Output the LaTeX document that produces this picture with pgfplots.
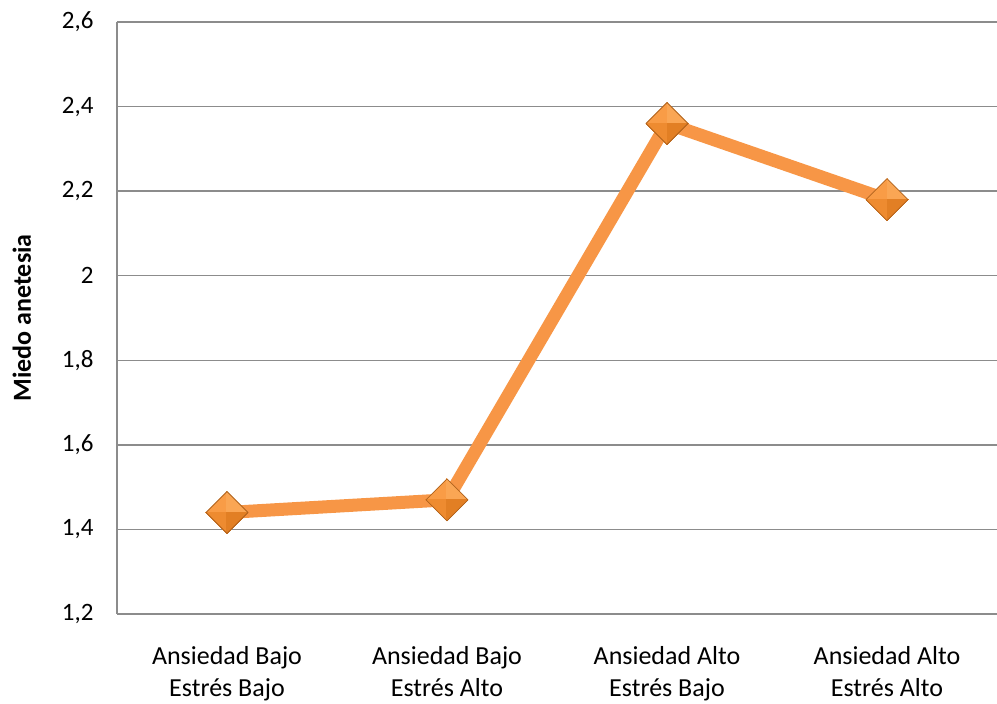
\documentclass[border=0pt]{standalone}
\usepackage{pgfplots}
\pgfplotsset{compat=1.18}
\usepackage{fontspec}
\setmainfont{Carlito}
\definecolor{lineorange}{HTML}{F79646}
\definecolor{facetl}{HTML}{F99C46}
\definecolor{facetr}{HTML}{FAA654}
\definecolor{facebl}{HTML}{EE8B30}
\definecolor{facebr}{HTML}{E27F24}
\definecolor{markedge}{HTML}{B0621C}
\definecolor{gridgray}{HTML}{8C8C8C}
% faceted diamond: four triangular faces meeting at the centre
\pgfdeclareplotmark{pyramid}{%
  \pgfsetlinewidth{0pt}%
  \pgfsetfillcolor{facetl}\pgfsetstrokecolor{facetl}%
  \pgfpathmoveto{\pgfpointorigin}\pgfpathlineto{\pgfqpoint{-\pgfplotmarksize}{0pt}}\pgfpathlineto{\pgfqpoint{0pt}{\pgfplotmarksize}}\pgfpathclose\pgfusepathqfillstroke
  \pgfsetfillcolor{facetr}\pgfsetstrokecolor{facetr}%
  \pgfpathmoveto{\pgfpointorigin}\pgfpathlineto{\pgfqpoint{\pgfplotmarksize}{0pt}}\pgfpathlineto{\pgfqpoint{0pt}{\pgfplotmarksize}}\pgfpathclose\pgfusepathqfillstroke
  \pgfsetfillcolor{facebl}\pgfsetstrokecolor{facebl}%
  \pgfpathmoveto{\pgfpointorigin}\pgfpathlineto{\pgfqpoint{-\pgfplotmarksize}{0pt}}\pgfpathlineto{\pgfqpoint{0pt}{-\pgfplotmarksize}}\pgfpathclose\pgfusepathqfillstroke
  \pgfsetfillcolor{facebr}\pgfsetstrokecolor{facebr}%
  \pgfpathmoveto{\pgfpointorigin}\pgfpathlineto{\pgfqpoint{\pgfplotmarksize}{0pt}}\pgfpathlineto{\pgfqpoint{0pt}{-\pgfplotmarksize}}\pgfpathclose\pgfusepathqfillstroke
  \pgfsetlinewidth{0.8pt}\pgfsetstrokecolor{markedge}%
  \pgfpathmoveto{\pgfqpoint{-\pgfplotmarksize}{0pt}}\pgfpathlineto{\pgfqpoint{0pt}{\pgfplotmarksize}}\pgfpathlineto{\pgfqpoint{\pgfplotmarksize}{0pt}}\pgfpathlineto{\pgfqpoint{0pt}{-\pgfplotmarksize}}\pgfpathclose\pgfusepathqstroke
}
\begin{document}
\begin{tikzpicture}[x=1pt,y=1pt]
\path[use as bounding box] (-117,-90) rectangle (880,614);
\begin{axis}[
  at={(0,0)}, anchor=south west,
  scale only axis,
  width=880pt, height=592pt,
  xmin=-0.5, xmax=3.5,
  ymin=1.2, ymax=2.6,
  ytick={1.2,1.4,...,2.6},
  xtick={0,1,2,3},
  xticklabels={{Ansiedad Bajo\\Estrés Bajo},{Ansiedad Bajo\\Estrés Alto},{Ansiedad Alto\\Estrés Bajo},{Ansiedad Alto\\Estrés Alto}},
  x tick label style={align=center, font=\fontsize{26}{32}\selectfont, yshift=-29pt},
  y tick label style={font=\fontsize{25}{30}\selectfont, xshift=-20pt},
  /pgf/number format/assume math mode=true,
  yticklabel={\pgfmathprintnumber[fixed,use comma,precision=1]{\tick}},
  major tick length=0pt,
  ymajorgrids,
  grid style={gridgray, line width=1.5pt},
  axis x line*=bottom,
  axis y line*=left,
  axis line style={gridgray, line width=1.5pt, -},
  ylabel={\textbf{Miedo anetesia}},
  ylabel style={font=\fontsize{26}{30}\selectfont, at={(axis description cs:-0.108,0.5)}, anchor=center},
  clip=false,
]
\addplot[lineorange, line width=13pt, line join=round,
  mark=pyramid, mark size=21pt]
  coordinates {(0,1.44) (1,1.47) (2,2.36) (3,2.18)};
\end{axis}
\end{tikzpicture}
\end{document}
